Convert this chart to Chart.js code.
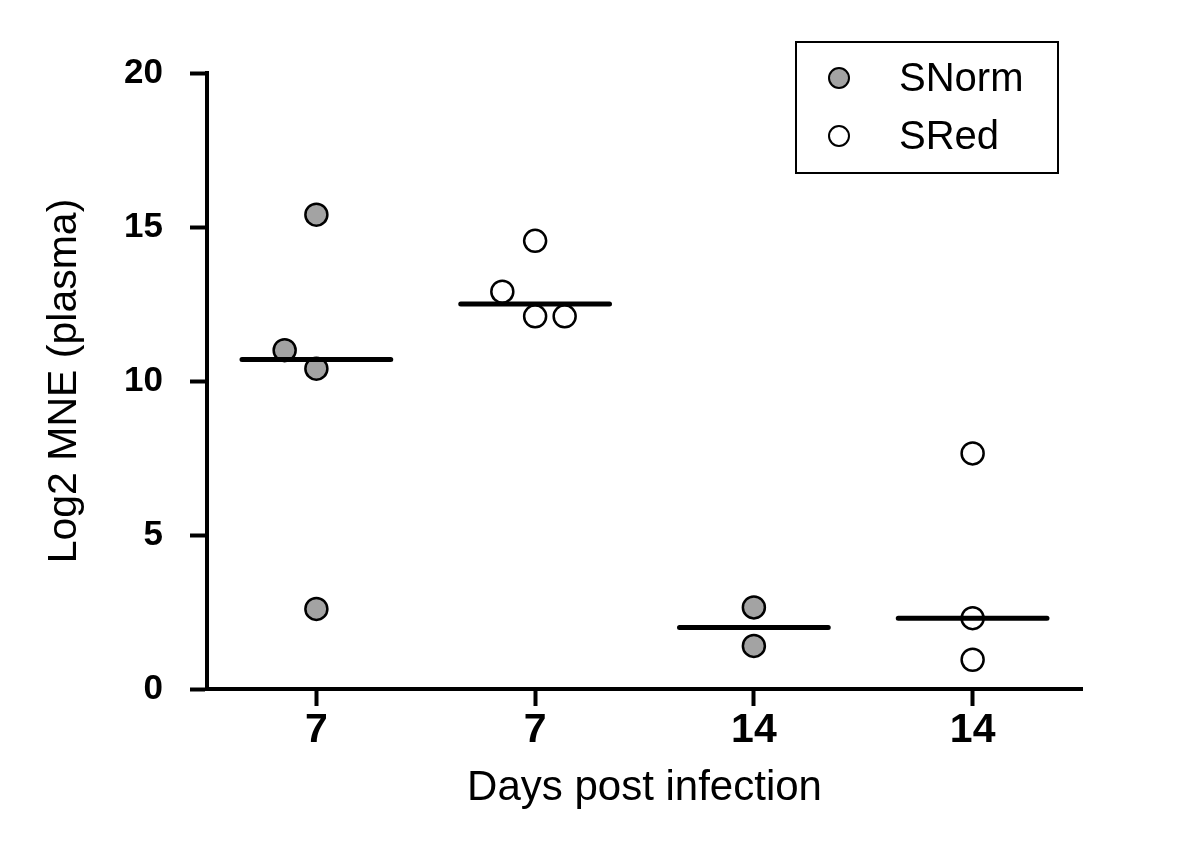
<!DOCTYPE html>
<html>
<head>
<meta charset="utf-8">
<title>Log2 MNE (plasma)</title>
<script src="https://cdn.jsdelivr.net/npm/chart.js@4.4.1/dist/chart.umd.min.js"></script>
<style>
  html, body { margin: 0; padding: 0; background: #fff; }
  canvas { display: block; }
</style>
</head>
<body>
<canvas id="chart1" width="1200" height="851"></canvas>
<script>
// tick labels of the x axis (one per group)
const dayLabels = ['7', '7', '14', '14'];
const groupPos = [1, 2, 3, 4];
const yTicks = [0, 5, 10, 15, 20];

// SNorm points (x = group position, small offsets where points overlap)
const snormX = [1, 0.855, 1, 1, 3, 3];
const snormY = [15.4, 11.0, 10.4, 2.6, 2.65, 1.4];

// SRed points
const sredX = [2, 1.85, 2, 2.135, 4, 4, 4];
const sredY = [14.55, 12.9, 12.1, 12.1, 7.65, 2.3, 0.95];

// median of every group
const medians = [10.7, 12.5, 2.0, 2.3];
const medianHalfWidth = 0.34;

const font = "'Liberation Sans', Arial, sans-serif";

function points(xs, ys) {
    return xs.map((x, i) => ({ x: x, y: ys[i] }));
}

// every median is a short line, null point breaks the line between groups
const medianData = [];
groupPos.forEach((g, i) => {
    medianData.push({ x: g - medianHalfWidth, y: medians[i] });
    medianData.push({ x: g + medianHalfWidth, y: medians[i] });
    medianData.push({ x: g + 0.5, y: null });
});

// legend with a frame, drawn inside the plot
const boxLegend = {
    id: 'boxLegend',
    afterDraw(chart) {
        const ctx = chart.ctx;
        const area = chart.chartArea;
        const left = area.right - 286, top = area.top - 31;
        const w = 262, h = 131;
        ctx.save();
        ctx.strokeStyle = '#000';
        ctx.lineWidth = 2;
        ctx.strokeRect(left, top, w, h);
        const sets = chart.data.datasets.filter(d => d.type === 'scatter');
        sets.forEach((d, i) => {
            const cy = top + 36 + i * 58;
            ctx.beginPath();
            ctx.arc(left + 43, cy, 10, 0, Math.PI * 2);
            ctx.fillStyle = d.backgroundColor;
            ctx.fill();
            ctx.lineWidth = 2;
            ctx.strokeStyle = '#000';
            ctx.stroke();
            ctx.fillStyle = '#000';
            ctx.font = '40px ' + font;
            ctx.textBaseline = 'middle';
            ctx.textAlign = 'left';
            ctx.fillText(d.label, left + 103, cy + 2);
        });
        ctx.restore();
    }
};

const config1 = {
    data: {
        datasets: [{
            type: 'line',
            label: 'Median',
            data: medianData,
            borderColor: '#000',
            borderWidth: 5,
            borderCapStyle: 'round',
            pointRadius: 0,
            spanGaps: false,
            order: 0
        }, {
            type: 'scatter',
            label: 'SNorm',
            data: points(snormX, snormY),
            backgroundColor: '#a3a3a3',
            borderColor: '#000',
            borderWidth: 2.5,
            pointRadius: 11,
            order: 1
        }, {
            type: 'scatter',
            label: 'SRed',
            data: points(sredX, sredY),
            backgroundColor: '#ffffff',
            borderColor: '#000',
            borderWidth: 2.5,
            pointRadius: 11,
            order: 1
        }]
    },
    options: {
        responsive: false,
        devicePixelRatio: 1,
        animation: false,
        events: [],
        layout: { padding: { left: 0, top: 73, right: 118, bottom: 0 } },
        plugins: {
            legend: { display: false },
            tooltip: { enabled: false }
        },
        scales: {
            x: {
                type: 'linear',
                min: 0.5,
                max: 4.5,
                afterBuildTicks: s => { s.ticks = groupPos.map(v => ({ value: v })); },
                afterFit: s => { s.height = 162; },
                border: { display: true, color: '#000', width: 4 },
                grid: { drawOnChartArea: false, drawTicks: true, tickLength: 17, tickWidth: 4, tickColor: '#000' },
                ticks: {
                    color: '#000',
                    padding: 4,
                    maxRotation: 0,
                    font: { family: font, size: 41, weight: 'bold', lineHeight: 1 },
                    callback: v => dayLabels[groupPos.indexOf(v)] || ''
                },
                title: {
                    display: true,
                    text: 'Days post infection',
                    color: '#000',
                    padding: { top: 0, bottom: 42 },
                    font: { family: font, size: 42, lineHeight: 1 }
                }
            },
            y: {
                min: 0,
                max: 20,
                afterBuildTicks: s => { s.ticks = yTicks.map(v => ({ value: v })); },
                afterFit: s => { s.width = 207; },
                border: { display: true, color: '#000', width: 4 },
                grid: { drawOnChartArea: false, drawTicks: true, tickLength: 17, tickWidth: 4, tickColor: '#000' },
                ticks: {
                    color: '#000',
                    padding: 27,
                    font: { family: font, size: 35, weight: 'bold', lineHeight: 1 }
                },
                title: {
                    display: true,
                    text: 'Log2 MNE (plasma)',
                    color: '#000',
                    padding: { top: 44, bottom: 0 },
                    font: { family: font, size: 41, lineHeight: 1 }
                }
            }
        }
    },
    plugins: [boxLegend]
};

new Chart(document.getElementById('chart1'), config1);
</script>
</body>
</html>
